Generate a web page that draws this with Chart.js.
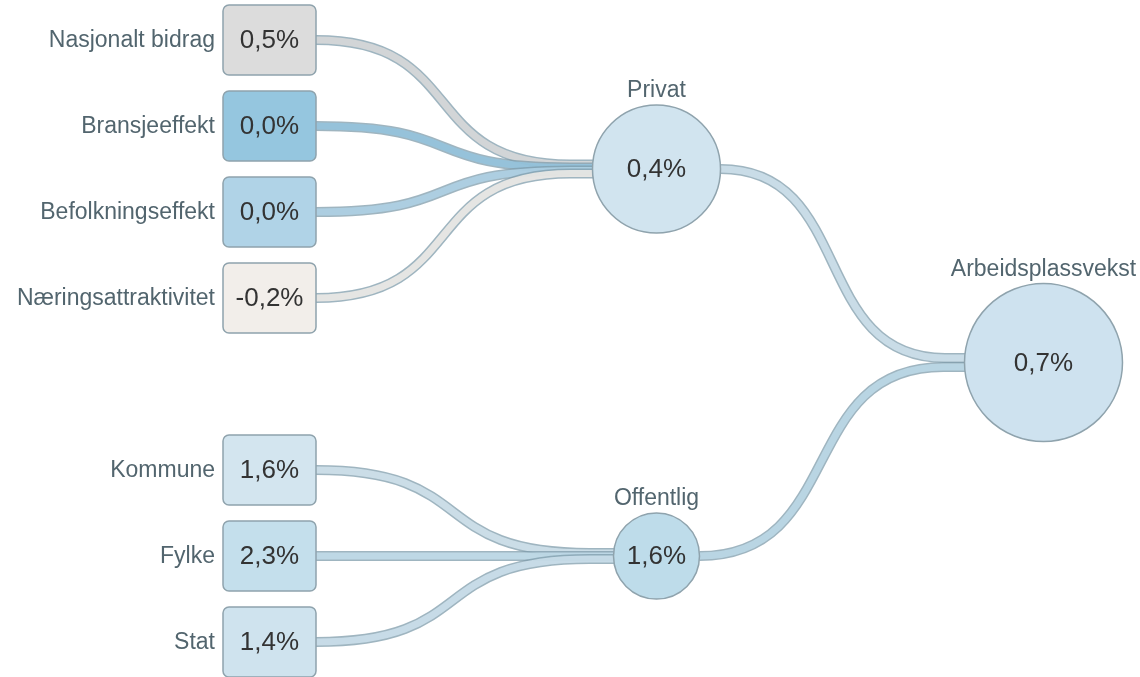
<!DOCTYPE html>
<html>
<head>
<meta charset="utf-8">
<script src="https://cdn.jsdelivr.net/npm/chart.js@4"></script>
<style>
  html, body { margin: 0; padding: 0; background: #ffffff; }
  #wrap { width: 1140px; height: 677px; }
</style>
</head>
<body>
<div id="wrap"><canvas id="myPlot1" width="1140" height="677"></canvas></div>
<script>
// data
const sourceNames = ['Nasjonalt bidrag', 'Bransjeeffekt', 'Befolkningseffekt', 'Næringsattraktivitet', 'Kommune', 'Fylke', 'Stat']
const sourceValues = [0.5, 0.0, 0.0, -0.2, 1.6, 2.3, 1.4]
const sourceSector = ['Privat', 'Privat', 'Privat', 'Privat', 'Offentlig', 'Offentlig', 'Offentlig']
const sectorNames = ['Privat', 'Offentlig']
const sectorValues = [0.4, 1.6]
const totalNames = ['Arbeidsplassvekst']
const totalValues = [0.7]

// styles
const sourceColors = ['#dcdcdc', '#95c6df', '#b0d3e7', '#f2eeea', '#d3e5ef', '#c4dfec', '#cfe3ee']
const sectorColors = ['#d1e4ef', '#bedcea']
const totalColors = ['#cee2ef']
const sectorRadius = [64, 43]
const totalRadius = [79]
const borderColor = '#8fa3ad'
const labelColor = '#52656e'
const valueColor = '#333333'
const boxW = 93, boxH = 70

const fmt = v => v.toFixed(1).replace('.', ',') + '%'

// layout: sources stacked in rows, one empty row between the sector groups
const sourceRows = []
let row = 0
sectorNames.forEach((s, k) => {
    if (k > 0) row++
    sourceSector.forEach((t, i) => {
        if (t === s) { sourceRows[i] = row; row++ }
    })
})
const mean = a => a.reduce((p, c) => p + c, 0) / a.length
const sectorRows = sectorNames.map(s => mean(sourceRows.filter((r, i) => sourceSector[i] === s)))
const totalRows = [mean(sectorRows)]

function flow(ctx, x0, y0, x1, y1, fill) {
    // stop the curve a bit before the node, then run straight in
    const xe = x1 - (x1 - x0) * 0.08
    const dx = xe - x0
    ctx.beginPath()
    ctx.moveTo(x0, y0)
    ctx.bezierCurveTo(x0 + dx * 0.6, y0, xe - dx * 0.6, y1, xe, y1)
    ctx.lineTo(x1 + 12, y1)
    ctx.lineCap = 'butt'
    ctx.globalAlpha = 0.75
    ctx.strokeStyle = '#7f9cab'
    ctx.lineWidth = 10
    ctx.stroke()
    ctx.globalAlpha = 0.85
    ctx.strokeStyle = fill
    ctx.lineWidth = 7
    ctx.stroke()
    ctx.globalAlpha = 1
}

const flowPlugin = {
    id: 'flows',
    beforeDatasetsDraw: (chart) => {
        const {ctx} = chart
        const src = chart.getDatasetMeta(0).data
        const sec = chart.getDatasetMeta(1).data
        const tot = chart.getDatasetMeta(2).data
        ctx.save()
        sectorNames.forEach((s, j) => {
            const idx = sourceSector.map((t, i) => t === s ? i : -1).filter(i => i >= 0)
            idx.forEach((i, k) => {
                const off = (k - (idx.length - 1) / 2) * 3
                flow(ctx, src[i].x + boxW / 2, src[i].y, sec[j].x - sectorRadius[j], sec[j].y + off, sourceColors[i])
            })
        })
        sectorNames.forEach((s, j) => {
            const off = (j - (sectorNames.length - 1) / 2) * 9
            flow(ctx, sec[j].x + sectorRadius[j], sec[j].y, tot[0].x - totalRadius[0], tot[0].y + off, sectorColors[j])
        })
        ctx.restore()
    },
    afterDatasetsDraw: (chart) => {
        const {ctx} = chart
        const src = chart.getDatasetMeta(0).data
        const sec = chart.getDatasetMeta(1).data
        const tot = chart.getDatasetMeta(2).data
        ctx.save()
        // boxes
        src.forEach((p, i) => {
            ctx.beginPath()
            ctx.roundRect(p.x - boxW / 2, p.y - boxH / 2, boxW, boxH, 6)
            ctx.fillStyle = sourceColors[i]
            ctx.fill()
            ctx.lineWidth = 1.5
            ctx.strokeStyle = borderColor
            ctx.stroke()
            ctx.fillStyle = valueColor
            ctx.font = '26px "Liberation Sans", Arial, sans-serif'
            ctx.textAlign = 'center'
            ctx.textBaseline = 'middle'
            ctx.fillText(fmt(sourceValues[i]), p.x, p.y + 1)
            ctx.fillStyle = labelColor
            ctx.font = '23px "Liberation Sans", Arial, sans-serif'
            ctx.textAlign = 'right'
            ctx.fillText(sourceNames[i], p.x - boxW / 2 - 8, p.y + 1)
        })
        const circ = (p, r, name, v) => {
            ctx.fillStyle = valueColor
            ctx.font = '26px "Liberation Sans", Arial, sans-serif'
            ctx.textAlign = 'center'
            ctx.textBaseline = 'middle'
            ctx.fillText(fmt(v), p.x, p.y + 1)
            ctx.fillStyle = labelColor
            ctx.font = '23px "Liberation Sans", Arial, sans-serif'
            ctx.textBaseline = 'alphabetic'
            ctx.fillText(name, p.x, p.y - r - 8)
        }
        sec.forEach((p, j) => circ(p, sectorRadius[j], sectorNames[j], sectorValues[j]))
        tot.forEach((p, j) => circ(p, totalRadius[j], totalNames[j], totalValues[j]))
        ctx.restore()
    }
}

new Chart(
    "myPlot1",
    {
        type: "scatter",
        data: {
            datasets: [
                {
                    data: sourceRows.map(r => ({x: 0, y: r})),
                    pointRadius: 0
                },
                {
                    data: sectorRows.map(r => ({x: 1, y: r})),
                    pointRadius: sectorRadius,
                    pointBackgroundColor: sectorColors,
                    pointBorderColor: borderColor,
                    pointBorderWidth: 1.5
                },
                {
                    data: totalRows.map(r => ({x: 2, y: r})),
                    pointRadius: totalRadius,
                    pointBackgroundColor: totalColors,
                    pointBorderColor: borderColor,
                    pointBorderWidth: 1.5
                }
            ]
        },
        options: {
            responsive: false,
            animation: false,
            events: [],
            layout: {padding: 0, autoPadding: false},
            scales: {
                x: {type: 'linear', display: false, min: -269.5 / 387, max: (1140 - 269.5) / 387},
                y: {type: 'linear', display: false, reverse: true, min: -40 / 86, max: (677 - 40) / 86}
            },
            plugins: {
                legend: {display: false},
                tooltip: {enabled: false}
            }
        },
        plugins: [flowPlugin]
    }
)
</script>
</body>
</html>
